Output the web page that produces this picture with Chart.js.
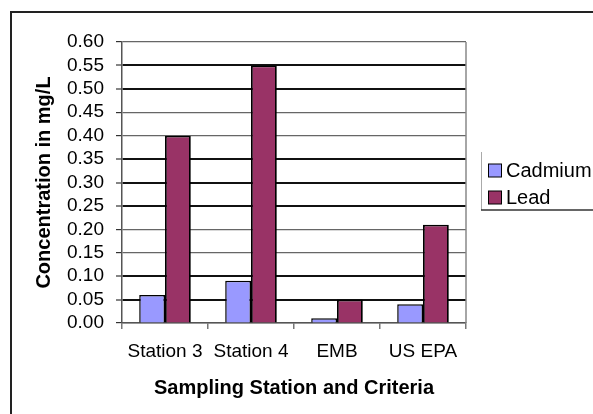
<!DOCTYPE html>
<html>
<head>
<meta charset="utf-8">
<script src="https://cdn.jsdelivr.net/npm/chart.js@4.4.1/dist/chart.umd.min.js"></script>
<style>
  html, body { margin: 0; padding: 0; background: #ffffff; }
  canvas { display: block; }
</style>
</head>
<body>
<canvas id="chart" width="593" height="414"></canvas>
<script>
// Sampling stations / criteria and measured concentrations (mg/L)
const categories = ['Station 3', 'Station 4', 'EMB', 'US EPA'];
const cadmium = [0.06, 0.09, 0.01, 0.04];
const lead = [0.40, 0.55, 0.05, 0.21];
const seriesNames = ['Cadmium', 'Lead'];
const yTickValues = [0.00, 0.05, 0.10, 0.15, 0.20, 0.25, 0.30, 0.35, 0.40, 0.45, 0.50, 0.55, 0.60];

const FONT = "'Liberation Sans', Arial, sans-serif";

// Gridline weights alternate between dark and light strokes
const darkLines = new Set([1, 2, 5, 6, 7, 10, 11]);

const decor = {
  id: 'decor',
  beforeDraw(chart) {
    const ctx = chart.ctx;
    ctx.save();
    ctx.fillStyle = '#ffffff';
    ctx.fillRect(0, 0, chart.width, chart.height);
    // outer frame (top and left edges)
    ctx.strokeStyle = '#222222';
    ctx.lineWidth = 2;
    ctx.beginPath();
    ctx.moveTo(11, chart.height);
    ctx.lineTo(11, 12);
    ctx.lineTo(chart.width, 12);
    ctx.stroke();
    ctx.restore();
  },
  afterDraw(chart) {
    const ctx = chart.ctx;
    const a = chart.chartArea;
    ctx.save();
    // right edge of the plot area
    ctx.strokeStyle = '#888888';
    ctx.lineWidth = 1.5;
    ctx.beginPath();
    ctx.moveTo(a.right, a.top);
    ctx.lineTo(a.right, a.bottom);
    ctx.stroke();

    // legend
    const lx = a.right + 15;
    ctx.strokeStyle = '#aaaaaa';
    ctx.lineWidth = 1;
    ctx.beginPath();
    ctx.moveTo(lx + 0.5, 152);
    ctx.lineTo(lx + 0.5, 210);
    ctx.stroke();
    ctx.strokeStyle = '#333333';
    ctx.lineWidth = 1.5;
    ctx.beginPath();
    ctx.moveTo(lx, 210);
    ctx.lineTo(chart.width, 210);
    ctx.stroke();

    ctx.font = '20px ' + FONT;
    ctx.textBaseline = 'middle';
    ctx.textAlign = 'left';
    chart.data.datasets.forEach((ds, i) => {
      const cy = 170.5 + i * 27;
      ctx.fillStyle = ds.backgroundColor;
      ctx.fillRect(lx + 7.5, cy - 6.5, 13, 13);
      ctx.strokeStyle = '#000000';
      ctx.lineWidth = 1;
      ctx.strokeRect(lx + 7.5, cy - 6.5, 13, 13);
      ctx.fillStyle = '#000000';
      ctx.fillText(ds.label, lx + 25, cy + 1);
    });
    ctx.restore();
  }
};

new Chart(document.getElementById('chart'), {
  type: 'bar',
  data: {
    labels: categories,
    datasets: [
      { label: seriesNames[0], data: cadmium, backgroundColor: '#9999FF', borderColor: '#000000', borderWidth: 1.5 },
      { label: seriesNames[1], data: lead, backgroundColor: '#993366', borderColor: '#000000', borderWidth: 1.8 }
    ]
  },
  options: {
    responsive: false,
    animation: false,
    devicePixelRatio: 1,
    layout: { padding: { left: 20, top: 42, right: 127, bottom: 0 } },
    datasets: { bar: { categoryPercentage: 0.6, barPercentage: 1.0 } },
    plugins: { legend: { display: false }, tooltip: { enabled: false } },
    scales: {
      x: {
        grid: { display: true, drawOnChartArea: false, drawTicks: true, tickLength: 6, tickColor: '#777777', lineWidth: 1.5, offset: true },
        border: { display: true, color: '#555555', width: 1.5 },
        ticks: { color: '#000000', font: { family: FONT, size: 19 }, padding: 11, maxRotation: 0, autoSkip: false },
        title: { display: true, text: 'Sampling Station and Criteria', color: '#000000', font: { family: FONT, size: 20, weight: 'bold' }, padding: { top: 0, bottom: 14 } },
        afterFit(axis) { axis.height = 91; }
      },
      y: {
        min: 0,
        max: 0.6,
        afterBuildTicks(axis) { axis.ticks = yTickValues.map(v => ({ value: v })); },
        grid: {
          drawTicks: true,
          tickLength: 6,
          color: ctx => darkLines.has(ctx.index) ? '#111111' : '#666666',
          lineWidth: ctx => darkLines.has(ctx.index) ? 2 : 1.2,
          tickColor: '#333333',
          tickWidth: 1.2
        },
        border: { display: true, color: '#555555', width: 1.5 },
        ticks: { color: '#000000', font: { family: FONT, size: 19 }, padding: 12, autoSkip: false, callback: v => Number(v).toFixed(2) },
        title: { display: true, text: 'Concentration in mg/L', color: '#000000', font: { family: FONT, size: 20, weight: 'bold' }, padding: { top: 12, bottom: 0 } },
        afterFit(axis) { axis.width = 102; }
      }
    }
  },
  plugins: [decor]
});
</script>
</body>
</html>
